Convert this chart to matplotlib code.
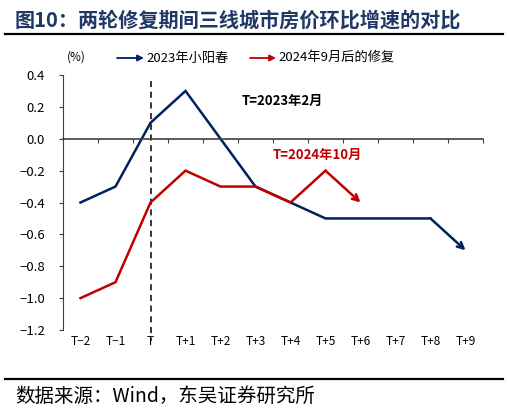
import matplotlib.pyplot as plt
from matplotlib.lines import Line2D
from matplotlib.patches import FancyArrowPatch

plt.rcParams['font.family'] = ['Noto Sans CJK SC', 'DejaVu Sans']
plt.rcParams['axes.unicode_minus'] = True

W, H = 509, 413

# 数据
categories = ['T\u22122', 'T\u22121', 'T', 'T+1', 'T+2', 'T+3', 'T+4', 'T+5', 'T+6', 'T+7', 'T+8', 'T+9']
series_2023 = [-0.4, -0.3, 0.1, 0.3, 0.0, -0.3, -0.4, -0.5, -0.5, -0.5, -0.5, -0.7]
series_2024 = [-1.0, -0.9, -0.4, -0.2, -0.3, -0.3, -0.4, -0.2, -0.4]
legend_labels = ['2023年小阳春', '2024年9月后的修复']
yticks = [0.4, 0.2, 0.0, -0.2, -0.4, -0.6, -0.8, -1.0, -1.2]

BLUE = '#002060'
RED = '#c00000'
AXIS = '#404040'


def fx(px):
    return px / W


def fy(py):
    return 1 - py / H


fig = plt.figure(figsize=(W / 100, H / 100), dpi=100)

# 标题和分隔线
fig.text(fx(15), fy(20), '图10：两轮修复期间三线城市房价环比增速的对比', fontsize=14.5,
         fontweight='bold', color='#1f3864', va='center', ha='left')
fig.add_artist(Line2D([fx(5), fx(503)], [fy(34), fy(34)], color='black', lw=1.6))
fig.add_artist(Line2D([fx(5), fx(503)], [fy(379), fy(379)], color='black', lw=1.6))
fig.text(fx(15), fy(396), '数据来源：Wind，东吴证券研究所', fontsize=14, color='black',
         va='center', ha='left')

ax = fig.add_axes([fx(63), fy(330), fx(483) - fx(63), fy(75) - fy(330)])
ax.set_xlim(-0.5, len(categories) - 0.5)
ax.set_ylim(-1.2, 0.4)

for s in ['top', 'right']:
    ax.spines[s].set_visible(False)
ax.spines['left'].set_color(AXIS)
ax.spines['bottom'].set_color(AXIS)
ax.spines['bottom'].set_position(('data', 0))
ax.spines['bottom'].set_linewidth(1.2)

ax.set_yticks(yticks)
ax.set_yticklabels([f'{v:.1f}'.replace('-', '\u2212') if v != 0 else '0.0' for v in yticks],
                   fontsize=9.5)
ax.tick_params(axis='y', direction='out', length=3, color=AXIS, pad=10)
ax.set_xticks([i + 0.5 for i in range(len(categories))])
ax.set_xticklabels([])
ax.tick_params(axis='x', direction='out', length=3, color=AXIS)

for i, lab in enumerate(categories):
    ax.text(i, -0.045, lab, transform=ax.get_xaxis_transform(), ha='center', va='center',
            fontsize=8.5, clip_on=False)

fig.text(fx(76), fy(57), '(%)', fontsize=8.5, ha='center', va='center')

# 竖虚线
ax.plot([2, 2], [0.36, -1.27], color='black', lw=1.1, ls=(0, (4, 3)), clip_on=False)

# 折线与箭头
for vals, color in [(series_2023, BLUE), (series_2024, RED)]:
    xs = list(range(len(vals)))
    ax.plot(xs[:-1], vals[:-1], color=color, lw=1.8, solid_joinstyle='miter')
    ax.annotate('', xy=(xs[-1], vals[-1]), xytext=(xs[-2], vals[-2]),
                arrowprops=dict(arrowstyle='->', color=color, lw=1.8, shrinkA=0, shrinkB=0,
                                mutation_scale=11))

ax.text(4.6, 0.235, 'T=2023年2月', fontsize=9.5, fontweight='bold', color='black', va='center')
ax.text(5.5, -0.10, 'T=2024年10月', fontsize=9.5, fontweight='bold', color=RED, va='center')

# 图例
for (x0, x1, tx), lab, color in zip([(117, 144, 146), (250, 276, 278)], legend_labels, [BLUE, RED]):
    fig.add_artist(FancyArrowPatch(
        (fx(x0), fy(58)), (fx(x1), fy(58)), transform=fig.transFigure,
        arrowstyle='-|>', color=color, lw=1.3, mutation_scale=9, shrinkA=0, shrinkB=0))
    fig.text(fx(tx), fy(58), lab, fontsize=9.5, ha='left', va='center')

fig.savefig('out.png', dpi=100)
